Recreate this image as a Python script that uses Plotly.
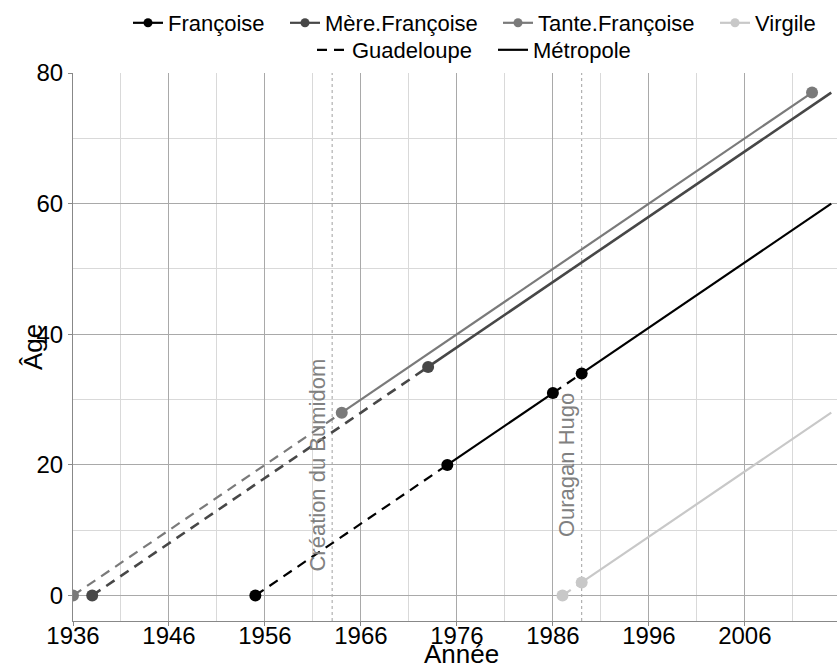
import plotly.graph_objects as go

# ---- data ----
persons = ["Françoise", "Mère.Françoise", "Tante.Françoise", "Virgile"]
person_colors = ["#000000", "#474747", "#7a7a7a", "#c8c8c8"]

# key years (x) and ages (y) for each person; last point is the end of the line
francoise_years = [1955, 1975, 1986, 1989, 2015]
francoise_ages = [0, 20, 31, 34, 60]
francoise_places = ["Guadeloupe", "Métropole", "Guadeloupe", "Métropole"]
francoise_marked = [True, True, True, True, False]

mere_years = [1938, 1973, 2015]
mere_ages = [0, 35, 77]
mere_places = ["Guadeloupe", "Métropole"]
mere_marked = [True, True, False]

tante_years = [1936, 1964, 2013]
tante_ages = [0, 28, 77]
tante_places = ["Guadeloupe", "Métropole"]
tante_marked = [True, True, True]

virgile_years = [1987, 1989, 2015]
virgile_ages = [0, 2, 28]
virgile_places = ["Guadeloupe", "Métropole"]
virgile_marked = [True, True, False]

event_years = [1963, 1989]
event_labels = ["Création du Bumidom", "Ouragan Hugo"]
event_label_age = 20

x_ticks = [1936, 1946, 1956, 1966, 1976, 1986, 1996, 2006]
y_ticks = [0, 20, 40, 60, 80]

places = ["Guadeloupe", "Métropole"]
place_dash = {"Guadeloupe": "10px,7px", "Métropole": "solid"}

series = [
    (francoise_years, francoise_ages, francoise_places, francoise_marked),
    (mere_years, mere_ages, mere_places, mere_marked),
    (tante_years, tante_ages, tante_places, tante_marked),
    (virgile_years, virgile_ages, virgile_places, virgile_marked),
]

# ---- layout constants (pixels) ----
W, H = 837, 668
ML, MR, MT, MB = 73, 0, 73, 47
PW, PH = W - ML - MR, H - MT - MB
LEG_FONT = 22
# left pixel where each legend entry's text starts, and row centre (px from top)
person_text_x = [168, 325, 538, 755]
place_text_x = [352, 533]
row1_y, row2_y = 23, 50
TEXT_OFFSET = 40  # plotly: distance from legend left edge to entry text


def px_to_paper_x(px):
    return (px - ML) / PW


def px_to_paper_y(py):
    return (H - MB - py) / PH


FONT = "Liberation Sans, Arial, sans-serif"
fig = go.Figure()

legend_layouts = {}
leg_idx = 0


def new_legend(text_x, row_y):
    global leg_idx
    leg_idx += 1
    key = "legend" if leg_idx == 1 else f"legend{leg_idx}"
    legend_layouts[key] = dict(
        orientation="h", x=px_to_paper_x(text_x - TEXT_OFFSET), xanchor="left",
        y=px_to_paper_y(row_y), yanchor="middle",
        font=dict(size=LEG_FONT), bgcolor="rgba(0,0,0,0)", borderwidth=0)
    return key


for name, color, (yrs, ages, plc, mk), tx in zip(persons, person_colors, series, person_text_x):
    width = 2.6 if name == "Mère.Françoise" else 2.2
    for i, p in enumerate(plc):
        fig.add_trace(go.Scatter(
            x=[yrs[i], yrs[i + 1]], y=[ages[i], ages[i + 1]], mode="lines",
            line=dict(color=color, width=width, dash=place_dash[p]),
            showlegend=False, hoverinfo="skip"))
    mx = [y for y, m in zip(yrs, mk) if m]
    my = [a for a, m in zip(ages, mk) if m]
    fig.add_trace(go.Scatter(
        x=mx, y=my, mode="markers",
        marker=dict(color=color, size=12), showlegend=False))
    fig.add_trace(go.Scatter(
        x=[None], y=[None], mode="lines+markers", name=name,
        line=dict(color=color, width=2.2), marker=dict(color=color, size=9),
        legend=new_legend(tx, row1_y)))

for p, tx in zip(places, place_text_x):
    fig.add_trace(go.Scatter(
        x=[None], y=[None], mode="lines", name=p,
        line=dict(color="black", width=2.2, dash=place_dash[p]),
        legend=new_legend(tx, row2_y)))

for yr, lab in zip(event_years, event_labels):
    fig.add_shape(type="line", x0=yr, x1=yr, y0=0, y1=1, yref="paper",
                  line=dict(color="#a0a0a0", width=1, dash="dot"), layer="below")
    fig.add_annotation(x=yr, y=event_label_age, text=lab, textangle=-90,
                       showarrow=False, xanchor="right", yanchor="middle",
                       font=dict(family=FONT, size=22, color="#808080"))

# axis titles
fig.add_annotation(x=0.5, y=0, xref="paper", yref="paper", text="Année",
                   showarrow=False, xanchor="center", yanchor="middle",
                   xshift=6, yshift=-33, font=dict(family=FONT, size=26))
fig.add_annotation(x=0, y=0.5, xref="paper", yref="paper", text="Âge",
                   showarrow=False, textangle=-90, xanchor="center", yanchor="middle",
                   xshift=-40, yshift=0, font=dict(family=FONT, size=26))

fig.update_layout(
    width=W, height=H,
    margin=dict(l=ML, r=MR, t=MT, b=MB),
    paper_bgcolor="white", plot_bgcolor="white",
    font=dict(family=FONT, color="black"),
    xaxis=dict(range=[1936, 2015.6], tickvals=x_ticks, ticktext=[str(t) for t in x_ticks],
               automargin=False,
               showgrid=True, gridcolor="#a9a9a9", gridwidth=1,
               minor=dict(dtick=5, tick0=1941, showgrid=True, gridcolor="#d9d9d9", gridwidth=1),
               showline=True, linecolor="#888888", linewidth=1,
               ticks="outside", ticklen=4, tickcolor="#888888",
               ticklabelstandoff=-11,
               tickfont=dict(size=24), zeroline=False),
    yaxis=dict(range=[-3.9, 80], tickvals=y_ticks,
               automargin=False,
               showgrid=True, gridcolor="#a9a9a9", gridwidth=1,
               minor=dict(dtick=10, tick0=10, showgrid=True, gridcolor="#d9d9d9", gridwidth=1),
               showline=True, linecolor="#888888", linewidth=1,
               ticks="outside", ticklen=4, tickcolor="#888888",
               tickfont=dict(size=24), zeroline=False),
    **legend_layouts,
)

fig.write_html("out.html", config={"displayModeBar": False},
               post_script="document.body.style.margin='0px';")
